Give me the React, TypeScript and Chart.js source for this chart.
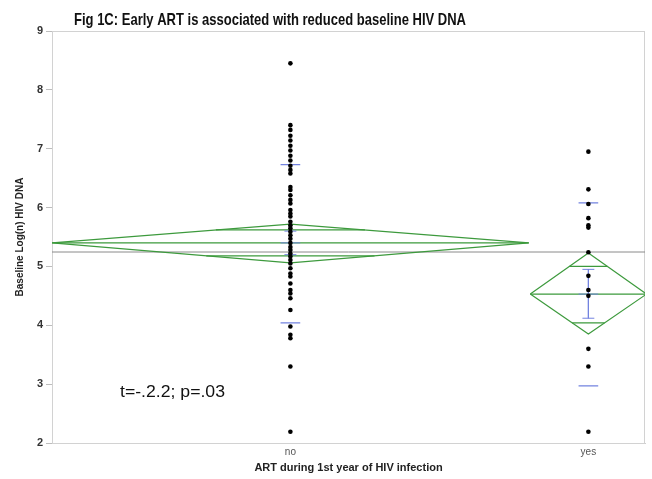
import React, { useEffect, useRef } from "react";
import { Chart, registerables } from "chart.js";

Chart.register(...registerables);

const categories = ["no", "yes"];
const categoryX = [1, 2];

const noValues = [
  8.45, 7.4, 7.32, 7.22, 7.14, 7.05, 6.97, 6.88, 6.8, 6.71, 6.64, 6.58, 6.35, 6.3, 6.21,
  6.13, 6.07, 5.96, 5.9, 5.85, 5.76, 5.7, 5.65, 5.59, 5.53, 5.47, 5.4, 5.33, 5.28, 5.22,
  5.17, 5.11, 5.05, 4.97, 4.88, 4.83, 4.71, 4.6, 4.54, 4.46, 4.26, 3.98, 3.84, 3.78, 3.3,
  2.19,
];
const yesValues = [6.95, 6.31, 6.06, 5.82, 5.7, 5.66, 5.24, 4.84, 4.6, 4.5, 3.6, 3.3, 2.19];

const groupMeans = [5.4, 4.53];
const ciUpper = [5.72, 5.23];
const ciLower = [5.06, 3.85];
const overlapUpper = [5.62, 5.0];
const overlapLower = [5.18, 4.04];
const sdUpper = [6.73, 6.08];
const sdLower = [4.04, 2.97];
const seUpper = [5.6, 4.95];
const seLower = [5.2, 4.12];
const grandMean = 5.245;

const yTickValues = [2, 3, 4, 5, 6, 7, 8, 9];

const TITLE = "Fig 1C: Early ART is associated with reduced baseline HIV DNA";
const ANNOTATION = "t=-.2.2; p=.03";
const X_TITLE = "ART during 1st year of HIV infection";
const Y_TITLE = "Baseline Log(n) HIV DNA";

// layout constants (not data)
const X_MIN = 0.2;
const X_MAX = 2.19;
const DIAMOND_HALF = [0.8, 0.195];
const MARK_HALF = 0.033;
const CAP_HALF = 0.02;

const GREEN = "#3d9a3d";
const BLUE = "#7383e0";

export default function App() {
  const ref = useRef<HTMLCanvasElement | null>(null);

  useEffect(() => {
    document.body.style.margin = "0";
    const canvas = ref.current;
    if (!canvas) return;

    const pts = [
      ...noValues.map((v) => ({ x: categoryX[0], y: v })),
      ...yesValues.map((v) => ({ x: categoryX[1], y: v })),
    ];

    const diamond: any[] = [];
    const meanLines: any[] = [];
    const overlap: any[] = [];
    const sdMarks: any[] = [];
    const seBars: any[] = [];
    categoryX.forEach((c, i) => {
      const hw = DIAMOND_HALF[i];
      const m = groupMeans[i];
      diamond.push(
        { x: c - hw, y: m },
        { x: c, y: ciUpper[i] },
        { x: c + hw, y: m },
        { x: c, y: ciLower[i] },
        { x: c - hw, y: m },
        { x: c, y: null }
      );
      meanLines.push({ x: c - hw, y: m }, { x: c + hw, y: m }, { x: c, y: null });
      const du = (overlapUpper[i] - m) / (ciUpper[i] - m);
      const wu = hw * (1 - du);
      overlap.push({ x: c - wu, y: overlapUpper[i] }, { x: c + wu, y: overlapUpper[i] }, { x: c, y: null });
      const dl = (m - overlapLower[i]) / (m - ciLower[i]);
      const wl = hw * (1 - dl);
      overlap.push({ x: c - wl, y: overlapLower[i] }, { x: c + wl, y: overlapLower[i] }, { x: c, y: null });
      sdMarks.push(
        { x: c - MARK_HALF, y: sdUpper[i] }, { x: c + MARK_HALF, y: sdUpper[i] }, { x: c, y: null },
        { x: c - MARK_HALF, y: sdLower[i] }, { x: c + MARK_HALF, y: sdLower[i] }, { x: c, y: null }
      );
      seBars.push(
        { x: c, y: seUpper[i] }, { x: c, y: seLower[i] }, { x: c, y: null },
        { x: c - CAP_HALF, y: seUpper[i] }, { x: c + CAP_HALF, y: seUpper[i] }, { x: c, y: null },
        { x: c - CAP_HALF, y: seLower[i] }, { x: c + CAP_HALF, y: seLower[i] }, { x: c, y: null },
        { x: c - MARK_HALF, y: m }, { x: c + MARK_HALF, y: m }, { x: c, y: null }
      );
    });

    const lineDs = (data: any[], color: string, width = 1) => ({
      type: "scatter" as const,
      data,
      showLine: true,
      spanGaps: false,
      borderColor: color,
      backgroundColor: color,
      borderWidth: width,
      pointRadius: 0,
      pointHoverRadius: 0,
      tension: 0,
    });

    const decor = {
      id: "decor",
      beforeDatasetsDraw(chart: any) {
        const { ctx, chartArea } = chart;
        ctx.save();
        ctx.strokeStyle = "#d2d2d2";
        ctx.lineWidth = 1;
        ctx.strokeRect(chartArea.left + 0.5, chartArea.top + 0.5, chartArea.right - chartArea.left - 1, chartArea.bottom - chartArea.top);
        ctx.restore();
      },
      afterDraw(chart: any) {
        const { ctx } = chart;
        ctx.save();
        ctx.fillStyle = "#111";
        ctx.textAlign = "left";
        ctx.textBaseline = "middle";
        ctx.font = 'bold 17px "Liberation Sans", Arial, sans-serif';
        ctx.fillText(TITLE, 74, 20, 392);
        ctx.font = '16px "Liberation Sans", Arial, sans-serif';
        const w = ctx.measureText(ANNOTATION).width;
        const sx = 105 / w;
        ctx.translate(120, 393);
        ctx.scale(sx, 1);
        ctx.fillText(ANNOTATION, 0, 0);
        ctx.restore();
      },
    };

    const chart = new Chart(canvas, {
      type: "scatter",
      data: {
        datasets: [
          {
            data: pts,
            pointRadius: 2.3,
            pointHoverRadius: 2.3,
            backgroundColor: "#000",
            borderColor: "#000",
            borderWidth: 0,
            showLine: false,
          } as any,
          lineDs(seBars, BLUE),
          lineDs(sdMarks, BLUE, 1.2),
          lineDs(overlap, GREEN, 1.2),
          lineDs(meanLines, GREEN, 1.2),
          lineDs(diamond, GREEN, 1.2),
          lineDs([{ x: X_MIN, y: grandMean }, { x: X_MAX, y: grandMean }], "#8a8a8a"),
        ],
      },
      options: {
        animation: false,
        responsive: true,
        maintainAspectRatio: false,
        events: [],
        layout: { padding: { top: 31, right: 7, left: 0, bottom: 0 } },
        plugins: { legend: { display: false }, tooltip: { enabled: false }, title: { display: false } },
        scales: {
          x: {
            type: "linear",
            min: X_MIN,
            max: X_MAX,
            afterBuildTicks: (s: any) => {
              s.ticks = categoryX.map((v) => ({ value: v }));
            },
            afterFit: (s: any) => {
              s.height = 36;
            },
            ticks: {
              autoSkip: false,
              maxRotation: 0,
              padding: 3,
              color: "#555",
              font: { family: '"Liberation Sans", Arial, sans-serif', size: 10 },
              callback: (v: any) => {
                const idx = categoryX.indexOf(Number(v));
                return idx >= 0 ? categories[idx] : "";
              },
            },
            grid: { display: false, drawTicks: false },
            border: { display: true, color: "#cfcfcf" },
            title: {
              display: true,
              text: X_TITLE,
              color: "#222",
              font: { family: '"Liberation Sans", Arial, sans-serif', size: 11, weight: "bold" },
              padding: { top: 0, bottom: 4 },
            },
          },
          y: {
            type: "linear",
            min: 2,
            max: 9,
            afterBuildTicks: (s: any) => {
              s.ticks = yTickValues.map((v) => ({ value: v }));
            },
            afterFit: (s: any) => {
              s.width = 52;
            },
            ticks: {
              padding: 3,
              color: "#333",
              font: { family: '"Liberation Sans", Arial, sans-serif', size: 11, weight: "bold" },
            },
            grid: { drawOnChartArea: false, drawTicks: true, tickLength: 6, color: "#bdbdbd" },
            border: { display: true, color: "#b0b0b0" },
            title: {
              display: true,
              text: Y_TITLE,
              color: "#222",
              font: { family: '"Liberation Sans", Arial, sans-serif', size: 10, weight: "bold" },
              padding: { top: 14, bottom: 0 },
            },
          },
        },
      },
      plugins: [decor],
    } as any);

    return () => chart.destroy();
  }, []);

  return (
    <div style={{ position: "relative", width: 652, height: 479 }}>
      <canvas ref={ref} />
    </div>
  );
}
